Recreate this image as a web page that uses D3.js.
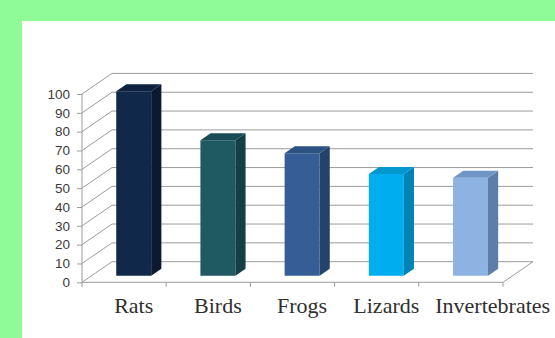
<!DOCTYPE html>
<html>
<head>
<meta charset="utf-8">
<script src="https://cdn.jsdelivr.net/npm/d3@7"></script>
<style>
  html, body { margin: 0; padding: 0; background: #8ffb97; }
  svg { display: block; }
</style>
</head>
<body>
<svg id="chart" width="555" height="338"></svg>
<script>
// Prey categories and their shares
const categories = ["Rats", "Birds", "Frogs", "Lizards", "Invertebrates"];
const values = [98, 72, 65, 54, 52];
const yTicks = [0, 10, 20, 30, 40, 50, 60, 70, 80, 90, 100];

// Face colours per bar: front, side, top
const frontColors = ["#12284a", "#1f5962", "#355e97", "#00adee", "#8cb3e1"];
const sideColors  = ["#0b1a31", "#153f46", "#25426b", "#0083b5", "#5c7ea9"];
const topColors   = ["#0e2140", "#194c54", "#2c5183", "#0097cf", "#7096c6"];

const svg = d3.select("#chart");
const W = 555, H = 338;

// white panel
svg.append("rect").attr("x", 22).attr("y", 21).attr("width", W - 22).attr("height", H - 21).attr("fill", "#ffffff");

// plot frame
const left = 82, right = 503;
const depthX = 30, depthY = 20.6;   // oblique offset of the back wall

const x = d3.scaleBand().domain(categories).range([left, right]).paddingInner(0).paddingOuter(0);
const y = d3.scaleLinear().domain([0, 100]).range([282.3, 94]);

// oblique projection: z runs 0 (front) .. 1 (back wall)
const px = (xv, z) => xv + z * depthX;
const py = (v, z) => y(v) - z * depthY;

const grid = svg.append("g").attr("fill", "none").attr("stroke", "#9c9c9c").attr("stroke-width", 1);

// back wall gridlines and left wall diagonals
yTicks.forEach(t => {
  grid.append("line")
    .attr("x1", px(left, 1)).attr("x2", px(right, 1))
    .attr("y1", py(t, 1)).attr("y2", py(t, 1));
  grid.append("line")
    .attr("x1", px(left, 0)).attr("x2", px(left, 1))
    .attr("y1", py(t, 0)).attr("y2", py(t, 1));
});

// floor edges
grid.append("line")
  .attr("x1", px(right, 0)).attr("x2", px(right, 1))
  .attr("y1", py(0, 0)).attr("y2", py(0, 1));
grid.append("line")
  .attr("x1", px(left, 0)).attr("x2", px(right, 0))
  .attr("y1", py(0, 0)).attr("y2", py(0, 0));

// value axis on the front plane
const yAxis = d3.axisLeft(y).tickValues(yTicks).tickSize(5).tickPadding(7).tickFormat(d3.format("d"));
const yG = svg.append("g").attr("transform", `translate(${left},0)`).call(yAxis);
yG.select(".domain").attr("stroke", "#9c9c9c").attr("d", `M0,${y(100)}V${y(0)}`);
yG.selectAll(".tick line").attr("stroke", "#9c9c9c");
yG.selectAll(".tick text")
  .attr("fill", "#3c3c3c")
  .style("font-family", "'Liberation Sans', Arial, sans-serif")
  .style("font-size", "13.5px");

// category tick marks on the floor's front edge
const bounds = categories.map(c => x(c)).concat([right]);
grid.selectAll("line.ctick").data(bounds).join("line")
  .attr("class", "ctick")
  .attr("x1", d => d).attr("x2", d => d)
  .attr("y1", y(0)).attr("y2", y(0) + 4.5);

// 3D columns
const z0 = 0.32, z1 = 0.66;
const barW = x.bandwidth() * 0.415;
const bars = svg.append("g");
categories.forEach((c, i) => {
  const v = values[i];
  const xl = x(c) + (x.bandwidth() - barW) / 2;
  const xr = xl + barW;
  const pts = (arr) => arr.map(p => p.join(",")).join(" ");
  // front face
  bars.append("polygon")
    .attr("points", pts([[px(xl, z0), py(v, z0)], [px(xr, z0), py(v, z0)], [px(xr, z0), py(0, z0)], [px(xl, z0), py(0, z0)]]))
    .attr("fill", frontColors[i]);
  // side face
  bars.append("polygon")
    .attr("points", pts([[px(xr, z0), py(v, z0)], [px(xr, z1), py(v, z1)], [px(xr, z1), py(0, z1)], [px(xr, z0), py(0, z0)]]))
    .attr("fill", sideColors[i]);
  // top face
  bars.append("polygon")
    .attr("points", pts([[px(xl, z0), py(v, z0)], [px(xl, z1), py(v, z1)], [px(xr, z1), py(v, z1)], [px(xr, z0), py(v, z0)]]))
    .attr("fill", topColors[i]);
});

// category labels centred under each column, nudged right when they would collide
const labelG = svg.append("g")
  .style("font-family", "'Liberation Serif', 'Times New Roman', serif")
  .style("font-size", "22px")
  .attr("fill", "#2f2f2f");
const labels = labelG.selectAll("text").data(categories).join("text")
  .attr("text-anchor", "middle")
  .attr("y", 313)
  .text(d => d);
let prevRight = -Infinity;
labels.each(function (d) {
  const w = this.getComputedTextLength();
  let cx = px(x(d) + x.bandwidth() / 2, z0);
  if (cx - w / 2 < prevRight + 16) cx = prevRight + 16 + w / 2;
  d3.select(this).attr("x", cx);
  prevRight = cx + w / 2;
});
</script>
</body>
</html>
